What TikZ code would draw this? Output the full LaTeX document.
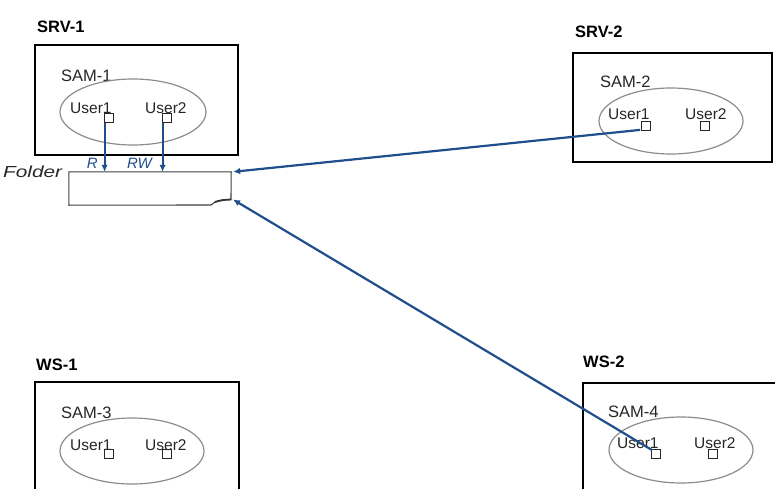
\documentclass[tikz,border=0pt]{standalone}
\usepackage{fontspec}
\setmainfont{Liberation Sans}
\usetikzlibrary{arrows.meta}
\definecolor{arrblue}{HTML}{1F4E8C}
\definecolor{ellgray}{HTML}{8C8C8C}
\tikzset{
  hostbox/.style={draw=black, line width=2.6pt, fill=none},
  hostlbl/.style={font=\fontsize{16.5}{16.5}\selectfont\bfseries, anchor=base west, inner sep=0pt},
  samlbl/.style={font=\fontsize{16.5}{16.5}\selectfont, anchor=base west, inner sep=0pt, text=black!85},
  samell/.style={draw=ellgray, line width=1.2pt},
  userlbl/.style={font=\fontsize{15.5}{15.5}\selectfont, anchor=base west, inner sep=0pt, text=black!85},
  usersq/.style={draw=black!85, line width=1.3pt, minimum size=8.5pt, inner sep=0pt},
  arr/.style={draw=arrblue, line width=2.2pt, -{Latex[length=7pt,width=6.5pt]}},
  rlbl/.style={font=\fontsize{15}{15}\itshape\selectfont, text=arrblue, anchor=base east, inner sep=0pt},
}
\begin{document}
\begin{tikzpicture}[x=1pt,y=-1pt]
\useasboundingbox (0,0) rectangle (775,489);
% ---------- SRV-1 ----------
\node[hostlbl] (srv1l) at (37,33) {SRV-1};
\draw[hostbox] (35,45) rectangle (238,155);
\node[samlbl] (sam1l) at (61,82) {SAM-1};
\draw[samell] (133,112) ellipse [x radius=73, y radius=33];
\node[userlbl] (u1l1) at (70,114) {User1};
\node[userlbl] (u1l2) at (145,114) {User2};
\node[usersq] (u11) at (109,118) {};
\node[usersq] (u12) at (167,118) {};
% ---------- Folder ----------
\node[inner sep=0pt, minimum width=162pt, minimum height=33pt] (folder) at (150,188.5) {};
\coordinate (fc1) at (231,199.5);
\coordinate (fc2) at (215,202);
\coordinate (fc3) at (211,205);
\draw[draw=black!75, line width=1.1pt, fill=white]
  (folder.north west) -- (folder.north east) -- (fc1)
  .. controls (225,199.5) and (219,200.5) .. (fc2)
  -- (fc3) -- (folder.south west) -- cycle;
\draw[draw=black!80, line width=1.8pt] (fc1) .. controls (222,200) .. (fc2);
\node[font=\fontsize{16}{16}\itshape\selectfont, anchor=base west, inner sep=0pt, text=black!85] (folderl) at (3,177) {\scalebox{1.3}[1]{Folder}};
% ---------- R / RW arrows ----------
\coordinate (a1) at ([xshift=0.5pt]u11.south west);
\coordinate (a2) at ([xshift=0.5pt]u12.south west);
\draw[arr] (a1) -- (a1 |- folder.north);
\draw[arr] (a2) -- (a2 |- folder.north);
\node[rlbl] (rl) at (98,168) {R};
\node[rlbl] (rwl) at (152,168) {RW};
% ---------- SRV-2 ----------
\node[hostlbl] (srv2l) at (575,38) {SRV-2};
\draw[hostbox] (573,53) rectangle (772,162);
\node[samlbl] (sam2l) at (600,88) {SAM-2};
\draw[samell] (671,121) ellipse [x radius=72, y radius=33];
\node[userlbl] (u2l1) at (608,120) {User1};
\node[userlbl] (u2l2) at (685,120) {User2};
\node[usersq] (u21) at (646,126) {};
\node[usersq] (u22) at (705,126) {};
% ---------- WS-1 ----------
\node[hostlbl] (ws1l) at (36,370) {WS-1};
\draw[hostbox] (35,382) rectangle (239,500);
\node[samlbl] (sam3l) at (61,418) {SAM-3};
\draw[samell] (132,451) ellipse [x radius=72, y radius=33];
\node[userlbl] (u3l1) at (70,450) {User1};
\node[userlbl] (u3l2) at (145,450) {User2};
\node[usersq] (u31) at (109,454) {};
\node[usersq] (u32) at (167,454) {};
% ---------- WS-2 ----------
\node[hostlbl] (ws2l) at (583,367) {WS-2};
\draw[hostbox] (583,383) rectangle (790,500);
\node[samlbl] (sam4l) at (608,417) {SAM-4};
\draw[samell] (681,450) ellipse [x radius=72, y radius=33];
\node[userlbl] (u4l1) at (617,448) {User1};
\node[userlbl] (u4l2) at (694,448) {User2};
\node[usersq] (u41) at (656,454) {};
\node[usersq] (u42) at (713,454) {};
% ---------- long arrows ----------
\coordinate (e1) at ([xshift=2pt]folder.north east);
\coordinate (e2) at ([xshift=2pt]fc1);
\draw[arr] ([xshift=-1pt,yshift=1pt]u21.south west) -- (e1);
\draw[arr] ([xshift=1pt,yshift=-1pt]u41.north west) -- (e2);
\end{tikzpicture}
\end{document}
